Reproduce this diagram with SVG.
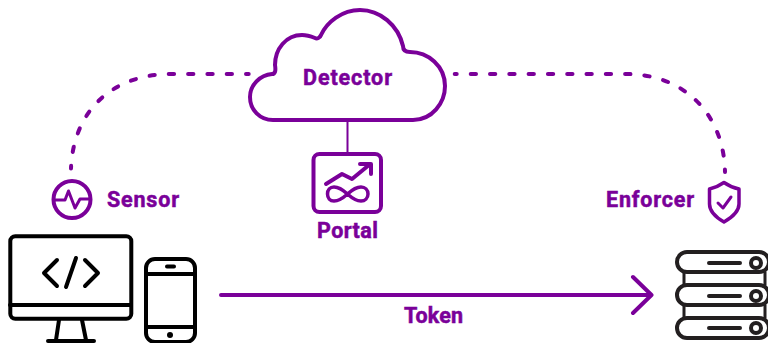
<svg xmlns="http://www.w3.org/2000/svg" width="768" height="343" viewBox="0 0 768 343">
<style>
.p{fill:none;stroke:#7a0099;stroke-width:4;stroke-linecap:round;stroke-linejoin:round}
.k{fill:none;stroke:#000;stroke-width:4;stroke-linecap:round;stroke-linejoin:round}
.s{fill:none;stroke:#231f20;stroke-width:4;stroke-linecap:round;stroke-linejoin:round}
.d{stroke-dasharray:5.3 14}
text{font-family:Roboto,"Liberation Sans",sans-serif;font-weight:700;font-size:21.500px;fill:#7a0099;stroke:#7a0099;stroke-width:.5px}
</style>
<rect width="768" height="343" fill="#fff"/>
<g id="connectors">
<path class="p d" style="stroke-dashoffset:2.600" d="M248.700 74H172C108 74 73 115 71 168.500"/>
<path class="p d" style="stroke-dashoffset:3.300" d="M454.700 74H626C685 74 724 115 725 172"/>
<path class="p" style="stroke-width:2" d="M347.500 120V153"/>
<path class="p" d="M221 295H651M633 277L651.500 295L633 313"/>
<text x="404" y="323" textLength="59">Token</text>
</g>
<g id="detector">
<path class="p" d="M273 120H413C432 120 445 103 445 86C445 66 428 52 410 52C405 52 403 50 403 46C398 25 380 10 360 10C342 10 327 22 321 35C320 38 317 39 315 38C310 36 306 35 302 35C286 35 275 49 275 65C276 71 275 74 272 74C260 75 250 85 250 97C250 110 260 120 273 120Z"/>
<text x="303" y="85" textLength="89">Detector</text>
</g>
<g id="portal">
<rect class="p" x="313.500" y="154" width="67.500" height="58" rx="6"/>
<path class="p" d="M326 184L342 174L352 179L369 165M360 164H371V174"/>
<path class="p" style="stroke-width:3.500" d="M347.500 194C342 189 338 187 334 187C330 187 327.500 190 327.500 194C327.500 198 330 201 334 201C338 201 342 199 347.500 194C353 189 357 187 361 187C365 187 368 190 368 194C368 198 365 201 361 201C357 201 353 199 347.500 194Z"/>
<text x="317" y="238" textLength="61">Portal</text>
</g>
<g id="sensor">
<circle class="p" cx="72" cy="199.500" r="18.500"/>
<path class="p" style="stroke-width:3" d="M55 200H65L68.500 191L75 208L80 199H90"/>
<text x="107" y="207" textLength="72">Sensor</text>
</g>
<g id="enforcer">
<path class="p" style="stroke-width:3.500" d="M724 182.500C729 186 734 188 739 189V204C739 212 731 218 724 222C717 218 709.500 212 709.500 204V189C714 188 719 186 724 182.500Z"/>
<path class="p" style="stroke-width:3" d="M718 203L723 208L731 197"/>
<text x="606" y="207" textLength="88">Enforcer</text>
</g>
<g id="computer">
<rect class="k" x="10.300" y="236.300" width="121" height="82.400" rx="5"/>
<path class="k" d="M10 305H131M59 320L56 340M82 320L86 340M48 341H94M57 260L44 273L57 286M76 258L66 287M85 260L98 273L85 286"/>
</g>
<g id="phone">
<rect class="k" x="146" y="259" width="49" height="83" rx="9"/>
<path class="k" d="M146 274H195M146 327H195M167 266.500H174"/>
<circle cx="170" cy="335" r="3" fill="#000"/>
</g>
<g id="server">
<path class="s" d="M684 272V285M765 272V285M684 305V318M765 305V318" style="stroke-width:3"/>
<rect class="s" x="677" y="252" width="92" height="20" rx="10"/>
<rect class="s" x="677" y="285" width="92" height="20" rx="10"/>
<rect class="s" x="677" y="318" width="92" height="20" rx="10"/>
<path class="s" d="M709 263H740M709 296H740M709 328H740"/>
<circle class="s" cx="756" cy="263" r="5"/>
<circle class="s" cx="756" cy="296" r="5"/>
<circle class="s" cx="756" cy="328" r="5"/>
</g>
</svg>
